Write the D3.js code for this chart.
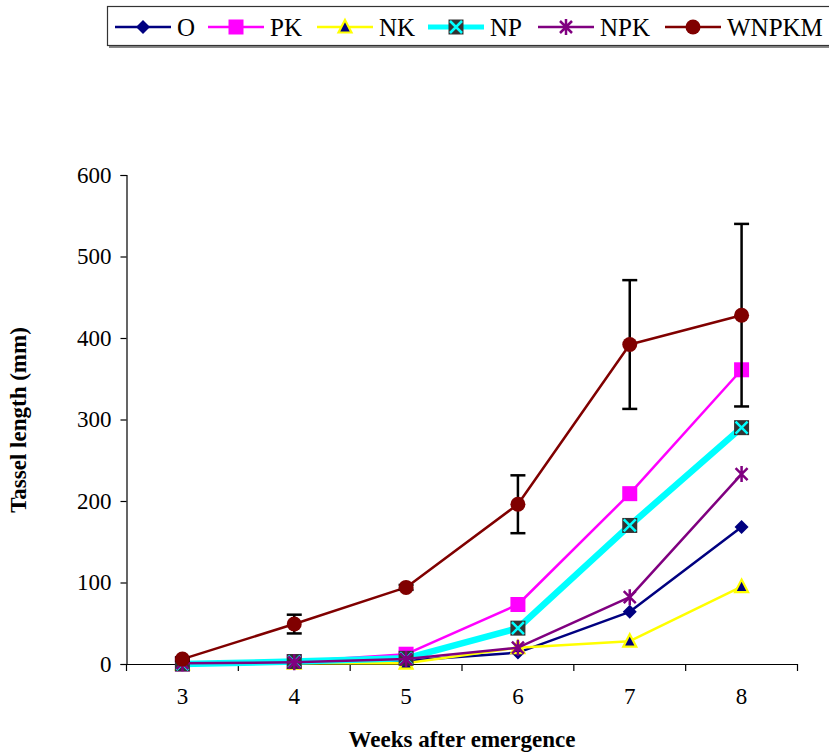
<!DOCTYPE html>
<html>
<head>
<meta charset="utf-8">
<script src="https://cdn.jsdelivr.net/npm/d3@7"></script>
<style>
  html, body { margin: 0; padding: 0; background: #fff; }
  svg { display: block; }
  svg text { font-family: "Liberation Serif", "Times New Roman", serif !important; fill: #000; }
</style>
</head>
<body>
<svg id="chart" width="829" height="754" font-family="Liberation Serif"></svg>
<script>
// ---- data ----
const weeks = ["3", "4", "5", "6", "7", "8"];
const seriesNames = ["O", "PK", "NK", "NP", "NPK", "WNPKM"];
const valuesO     = [0, 2, 4, 14, 64, 168];
const valuesPK    = [0, 3, 12, 73, 209, 361];
const valuesNK    = [0, 1, 1, 20, 28, 95];
const valuesNP    = [0, 3, 7, 44, 170, 290];
const valuesNPK   = [1, 2, 6, 20, 82, 233];
const valuesWNPKM = [6, 49, 94, 196, 392, 428];
const errorsWNPKM = [2, 11.5, 3, 35.5, 79, 112];
const yTicks = [0, 100, 200, 300, 400, 500, 600];

const styles = {
  O:     { color: "#000080", width: 2.5, marker: "diamond" },
  PK:    { color: "#FF00FF", width: 2.5, marker: "square" },
  NK:    { color: "#FFFF00", width: 2.5, marker: "triangle" },
  NP:    { color: "#00FFFF", width: 6.5, marker: "xsquare" },
  NPK:   { color: "#800080", width: 2.5, marker: "star" },
  WNPKM: { color: "#800000", width: 2.5, marker: "circle" }
};
const seriesValues = {
  O: valuesO, PK: valuesPK, NK: valuesNK, NP: valuesNP, NPK: valuesNPK, WNPKM: valuesWNPKM
};

const FONT = "Liberation Serif";
const svg = d3.select("#chart");

const x = d3.scaleBand().domain(weeks).range([126.5, 797.5]).padding(0);
const y = d3.scaleLinear().domain([0, 600]).range([664, 175]);
const cx = d => x(d) + x.bandwidth() / 2;

// ---- axes ----
const yAxis = svg.append("g")
  .attr("transform", "translate(126.5,0)")
  .call(d3.axisLeft(y).tickValues(yTicks).tickSize(6).tickPadding(9).tickFormat(d3.format("d")));
yAxis.attr("font-family", FONT);
yAxis.selectAll("text").attr("font-family", FONT).style("font-size", "23px");
yAxis.select(".domain").attr("stroke", "#000").attr("stroke-width", 1.2);
yAxis.selectAll(".tick line").attr("stroke", "#000").attr("stroke-width", 1.2);

const xAxis = svg.append("g")
  .attr("transform", "translate(0,664)")
  .call(d3.axisBottom(x).tickSize(0).tickPadding(24));
xAxis.attr("font-family", FONT);
xAxis.selectAll("text").attr("font-family", FONT).style("font-size", "23px");
xAxis.select(".domain").attr("stroke", "#000").attr("stroke-width", 1.2);
// ticks at band boundaries
const boundaries = weeks.map(w => x(w)).concat([x(weeks[weeks.length - 1]) + x.bandwidth()]);
xAxis.selectAll("line.bnd").data(boundaries).enter().append("line")
  .attr("class", "bnd")
  .attr("x1", d => d).attr("x2", d => d)
  .attr("y1", 0).attr("y2", 7)
  .attr("stroke", "#000").attr("stroke-width", 1.2);

// axis titles
svg.append("text")
  .attr("x", 462).attr("y", 747)
  .attr("text-anchor", "middle")
  .attr("font-family", FONT)
  .style("font-size", "23px").style("font-weight", "bold")
  .text("Weeks after emergence");
svg.append("text")
  .attr("transform", "translate(26,420) rotate(-90)")
  .attr("text-anchor", "middle")
  .attr("font-family", FONT)
  .style("font-size", "23px").style("font-weight", "bold")
  .text("Tassel length (mm)");

// ---- markers ----
function drawMarker(g, type, color) {
  if (type === "diamond") {
    g.append("path").attr("d", "M0,-7L7,0L0,7L-7,0Z").attr("fill", color);
  } else if (type === "square") {
    g.append("rect").attr("x", -7.5).attr("y", -7.5).attr("width", 15).attr("height", 15).attr("fill", color);
  } else if (type === "triangle") {
    g.append("path").attr("d", "M0,-7L6.5,5.5L-6.5,5.5Z")
      .attr("fill", "#000080").attr("stroke", "#FFFF00").attr("stroke-width", 2.2).attr("stroke-linejoin", "miter");
  } else if (type === "xsquare") {
    g.append("rect").attr("x", -7.5).attr("y", -7.5).attr("width", 15).attr("height", 15).attr("fill", "#333333");
    g.append("path").attr("d", "M-6,-6L6,6M6,-6L-6,6").attr("stroke", color).attr("stroke-width", 2.5);
  } else if (type === "star") {
    g.append("path").attr("d", "M-6,-6L6,6M6,-6L-6,6M0,-8L0,8")
      .attr("stroke", color).attr("stroke-width", 2.5);
  } else if (type === "circle") {
    g.append("circle").attr("r", 7.5).attr("fill", color);
  }
}

const line = d3.line().x(d => cx(d.w)).y(d => y(d.v));

// ---- series ----
seriesNames.forEach(name => {
  const st = styles[name];
  const data = weeks.map((w, i) => ({ w: w, v: seriesValues[name][i] }));
  const g = svg.append("g").attr("class", "series-" + name);
  g.append("path").datum(data)
    .attr("d", line)
    .attr("fill", "none")
    .attr("stroke", st.color)
    .attr("stroke-width", st.width)
    .attr("stroke-linejoin", "round");
  if (name === "WNPKM") {
    const eg = g.append("g").attr("class", "errorbars");
    data.forEach((d, i) => {
      const e = errorsWNPKM[i];
      const xx = cx(d.w);
      eg.append("line").attr("x1", xx).attr("x2", xx).attr("y1", y(d.v - e)).attr("y2", y(d.v + e))
        .attr("stroke", "#000").attr("stroke-width", 2.5);
      [d.v - e, d.v + e].forEach(yy => {
        eg.append("line").attr("x1", xx - 7.5).attr("x2", xx + 7.5).attr("y1", y(yy)).attr("y2", y(yy))
          .attr("stroke", "#000").attr("stroke-width", 2.5);
      });
    });
  }
  data.forEach(d => {
    const mg = g.append("g").attr("transform", `translate(${cx(d.w)},${y(d.v)})`);
    drawMarker(mg, st.marker, st.color);
  });
});

// ---- legend ----
const legend = svg.append("g").attr("class", "legend");
legend.append("rect")
  .attr("x", 109).attr("y", 8).attr("width", 760).attr("height", 40)
  .attr("fill", "#888");
legend.append("rect")
  .attr("x", 107.5).attr("y", 6.5).attr("width", 760).attr("height", 39)
  .attr("fill", "#fff").attr("stroke", "#333").attr("stroke-width", 1.2);
const legendX = [115, 208, 317, 428, 538, 665];
seriesNames.forEach((name, i) => {
  const st = styles[name];
  const lx = legendX[i];
  const ly = 27;
  legend.append("line").attr("x1", lx).attr("x2", lx + 56).attr("y1", ly).attr("y2", ly)
    .attr("stroke", st.color).attr("stroke-width", name === "NP" ? 5 : 2.5);
  const mg = legend.append("g").attr("transform", `translate(${lx + 28},${ly})`);
  drawMarker(mg, st.marker, st.color);
  legend.append("text").attr("x", lx + 62).attr("y", ly + 9)
    .attr("font-family", FONT)
    .style("font-size", "25px").text(name);
});
</script>
</body>
</html>
